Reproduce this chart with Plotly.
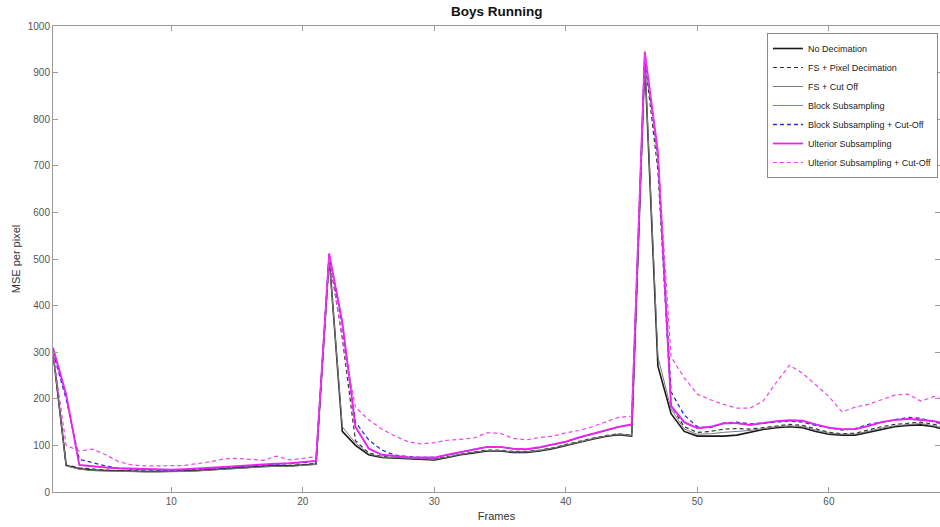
import plotly.graph_objects as go

frames = list(range(1, 70))

no_decimation = [300, 57, 50, 47, 46, 45, 44, 44, 44, 44, 45, 46, 48, 50, 52, 54, 55, 56, 56, 58, 60,
                 505, 130, 100, 80, 74, 73, 71, 70, 69, 74, 80, 84, 88, 88, 85, 85, 88, 93, 100, 107,
                 113, 119, 123, 120, 925, 270, 168, 130, 120, 120, 120, 122, 128, 134, 138, 140, 138,
                 130, 124, 122, 122, 128, 135, 140, 143, 144, 140, 132]

fs_pixel_decimation = [300, 58, 52, 49, 47, 46, 45, 45, 45, 45, 46, 47, 49, 51, 53, 55, 56, 57, 57, 59, 61,
                       505, 330, 110, 84, 76, 74, 72, 71, 71, 76, 82, 86, 90, 90, 87, 87, 90, 95, 102, 109,
                       115, 121, 125, 122, 930, 690, 185, 140, 128, 130, 135, 136, 135, 138, 142, 145, 143,
                       135, 128, 125, 126, 133, 140, 145, 148, 150, 145, 138]

fs_cut_off = [300, 56, 49, 46, 45, 44, 44, 43, 43, 43, 44, 45, 47, 49, 51, 53, 54, 55, 55, 57, 59,
              500, 140, 105, 82, 75, 74, 72, 71, 70, 75, 81, 85, 89, 89, 86, 86, 89, 94, 100, 107,
              114, 120, 124, 121, 928, 290, 178, 135, 124, 125, 128, 130, 132, 136, 140, 142, 140,
              133, 126, 124, 124, 130, 137, 142, 145, 147, 142, 135]

block_sub = [305, 205, 57, 54, 52, 50, 49, 48, 47, 47, 48, 49, 51, 53, 55, 57, 59, 60, 61, 63, 66,
             510, 360, 138, 92, 79, 76, 74, 73, 73, 79, 85, 91, 96, 96, 92, 91, 95, 101, 107, 116,
             123, 131, 139, 144, 940, 720, 182, 148, 136, 139, 146, 147, 143, 147, 151, 153, 152,
             144, 137, 134, 134, 141, 149, 154, 156, 154, 151, 145]

block_sub_cut = [300, 200, 70, 63, 56, 51, 49, 48, 47, 47, 48, 49, 51, 53, 55, 57, 59, 60, 61, 63, 66,
                 508, 360, 150, 112, 90, 79, 76, 74, 74, 80, 86, 92, 97, 97, 93, 92, 96, 102, 108, 117,
                 124, 132, 140, 145, 942, 720, 215, 165, 140, 138, 148, 150, 146, 148, 150, 152, 150,
                 143, 138, 133, 136, 145, 150, 155, 160, 158, 150, 143]

ulterior_sub = [310, 210, 58, 55, 53, 51, 50, 49, 48, 48, 49, 50, 52, 54, 56, 58, 60, 61, 62, 64, 67,
                512, 365, 140, 94, 80, 77, 75, 74, 74, 80, 86, 92, 97, 97, 93, 92, 96, 102, 108, 117,
                124, 132, 140, 145, 945, 730, 185, 150, 137, 140, 148, 148, 144, 148, 152, 154, 153,
                145, 138, 135, 135, 142, 150, 155, 157, 155, 152, 146]

ulterior_sub_cut = [300, 100, 88, 92, 80, 65, 58, 56, 56, 56, 57, 61, 65, 71, 72, 70, 68, 77, 69, 72, 76,
                    505, 330, 182, 155, 135, 120, 108, 103, 106, 111, 113, 116, 127, 126, 115, 112, 117, 120,
                    127, 132, 140, 150, 160, 163, 940, 720, 290, 245, 210, 198, 188, 180, 180, 195, 235,
                    272, 255, 230, 205, 172, 182, 188, 198, 208, 210, 195, 205, 195]

series = [
    ("No Decimation", no_decimation, "#1a1a1a", "solid", 1.6),
    ("FS + Pixel Decimation", fs_pixel_decimation, "#333333", "4px,3px", 1.2),
    ("FS + Cut Off", fs_cut_off, "#7a7a7a", "solid", 1.0),
    ("Block Subsampling", block_sub, "#7474ff", "solid", 1.0),
    ("Block Subsampling + Cut-Off", block_sub_cut, "#2a2ae0", "4px,3px", 1.3),
    ("Ulterior Subsampling", ulterior_sub, "#ee22ee", "solid", 1.8),
    ("Ulterior Subsampling + Cut-Off", ulterior_sub_cut, "#ee44ee", "4px,3px", 1.2),
]

fig = go.Figure()
for name, vals, color, dash, width in series:
    fig.add_trace(go.Scatter(x=frames, y=vals, mode="lines", name=name,
                             line=dict(color=color, dash=dash, width=width)))

axis_common = dict(showline=True, linecolor="#9a9a9a", linewidth=1, mirror="ticks",
                   ticks="inside", ticklen=5, tickcolor="#9a9a9a", showgrid=False,
                   zeroline=False, tickfont=dict(size=10, color="#555555"))

fig.update_layout(
    width=940, height=527,
    margin=dict(l=53, r=0, t=26, b=35),
    paper_bgcolor="white", plot_bgcolor="white",
    font=dict(family="Arial, Liberation Sans, sans-serif", color="#333333"),
    title=dict(text="<b>Boys Running</b>", x=0.5285, xanchor="center", y=0.978, yanchor="middle",
               font=dict(size=13.5, color="#111111")),
    xaxis=dict(range=[1, 68.45], tickvals=[10, 20, 30, 40, 50, 60],
               title=dict(text="Frames", font=dict(size=11, color="#333333"), standoff=6),
               **axis_common),
    yaxis=dict(range=[0, 1000], tickvals=list(range(0, 1001, 100)),
               title=dict(text="MSE per pixel", font=dict(size=11, color="#333333"), standoff=4),
               **axis_common),
    legend=dict(x=0.9977, y=0.985, xanchor="right", yanchor="top",
                bgcolor="white", bordercolor="#8a8a8a", borderwidth=1,
                font=dict(size=9, color="#222222"), tracegroupgap=0, itemwidth=30),
    showlegend=True,
)

fig.write_html("out.html")
